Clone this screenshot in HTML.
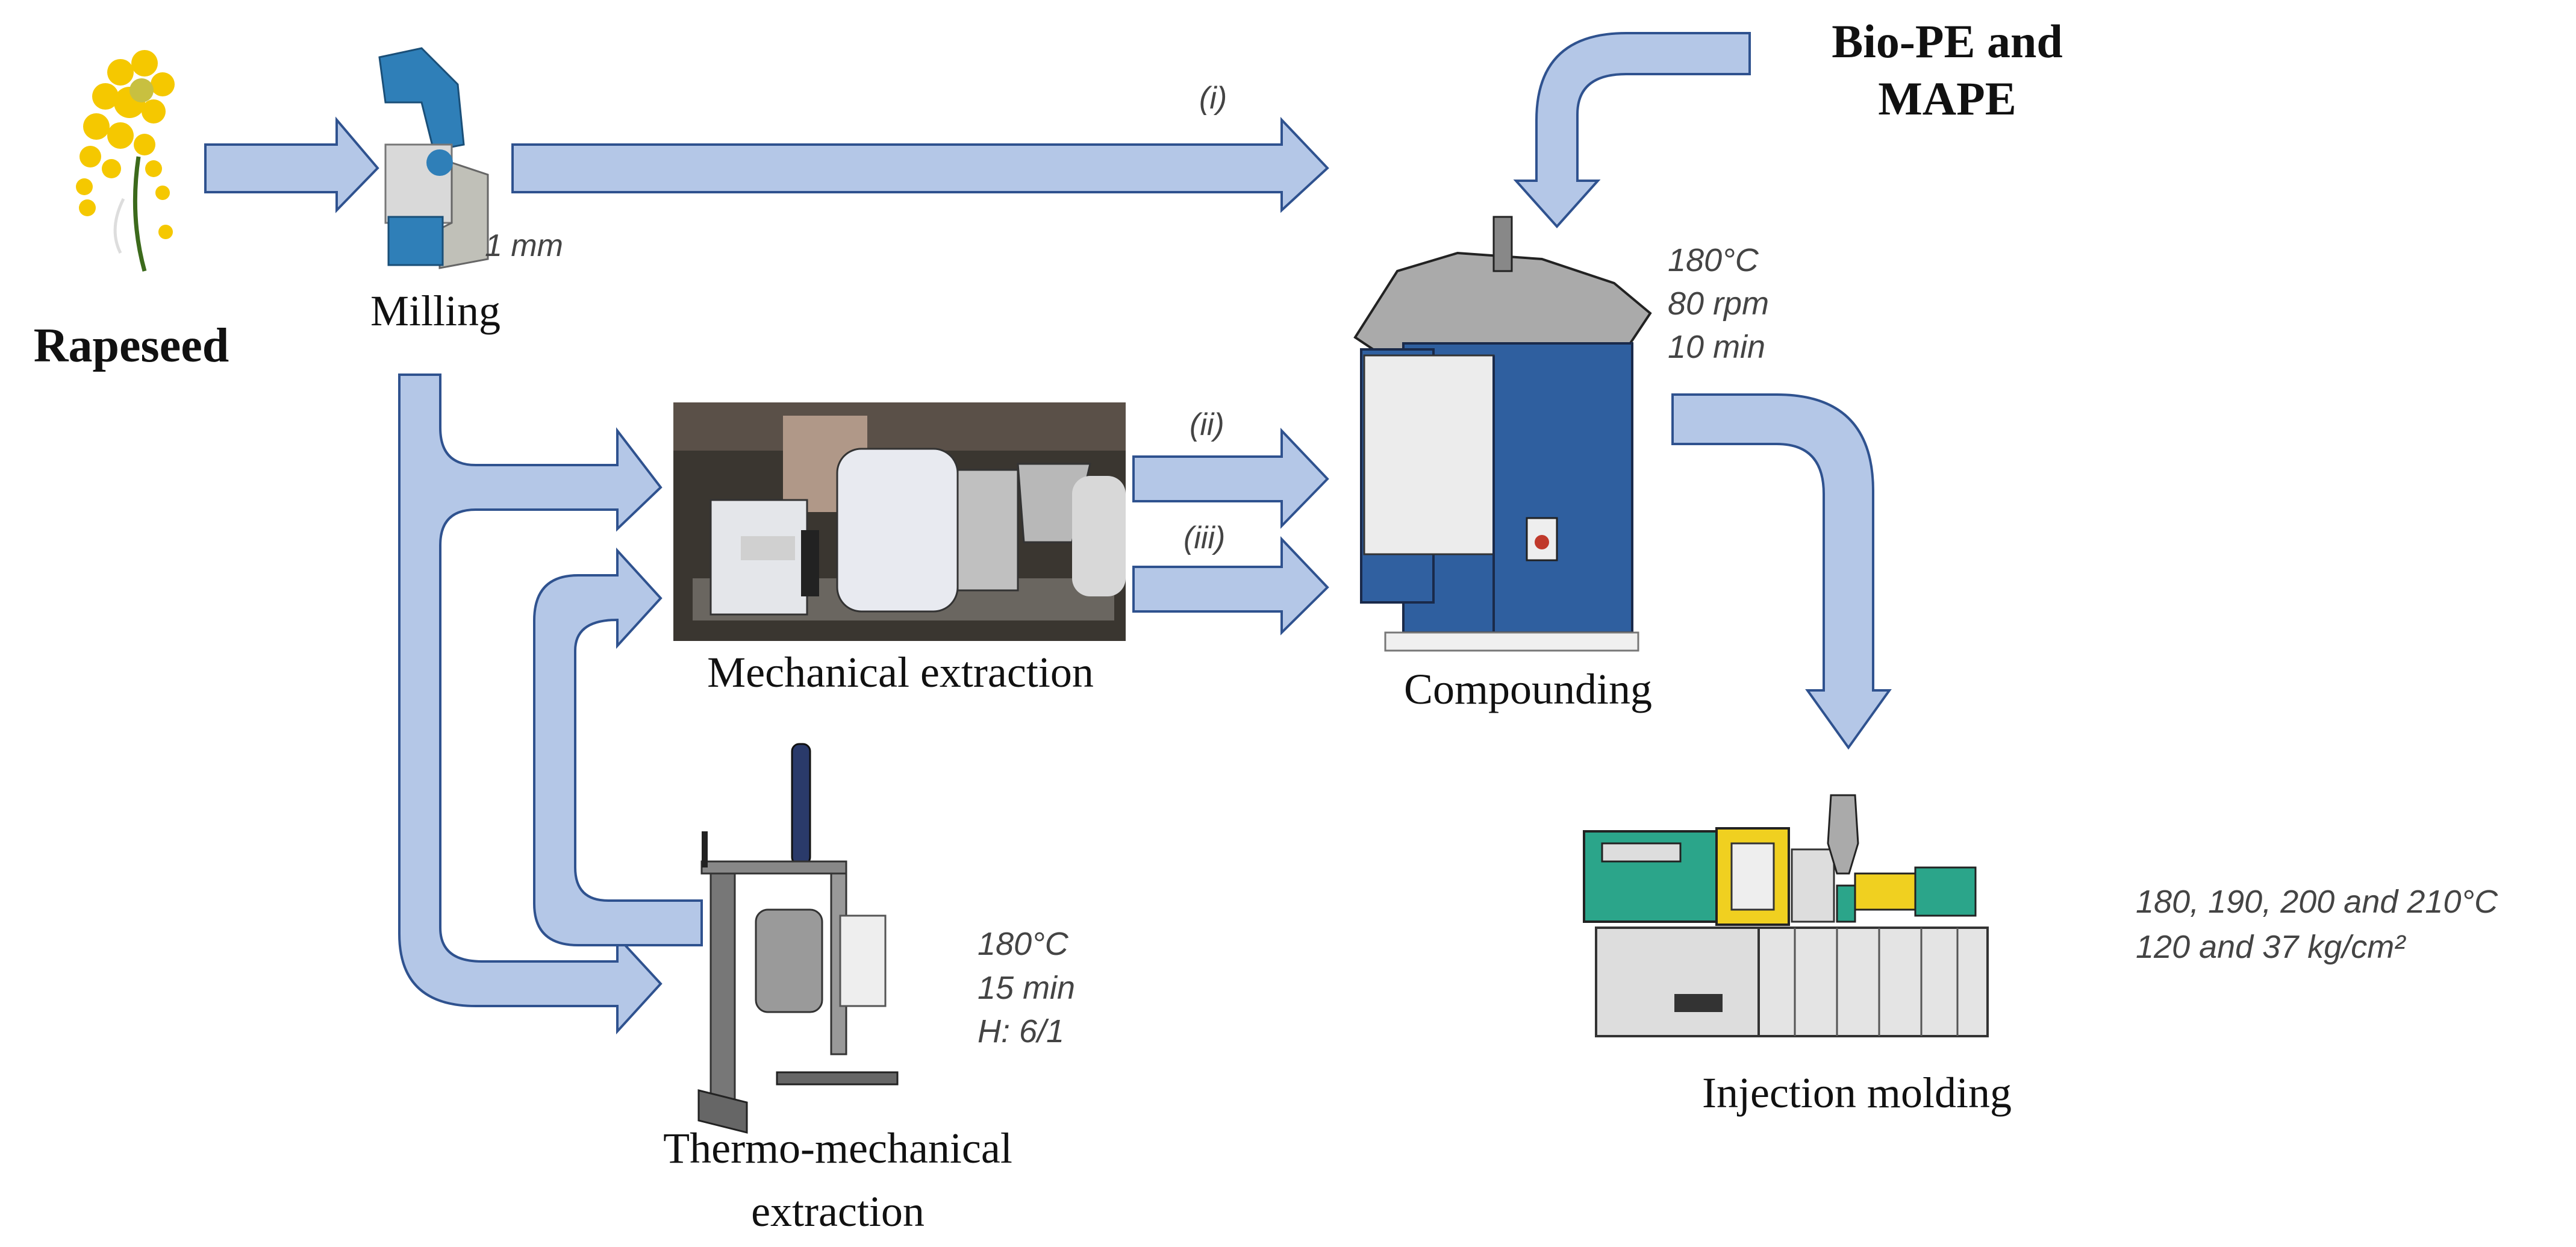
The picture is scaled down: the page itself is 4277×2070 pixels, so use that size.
<!DOCTYPE html>
<html><head><meta charset="utf-8"><style>
html,body{margin:0;padding:0;background:#fff;}
svg{display:block}
.s{font-family:"Liberation Serif",serif;fill:#111;}
.h{font-family:"Liberation Sans",sans-serif;font-style:italic;fill:#444;font-weight:300;}
.a{fill:#b4c7e7;stroke:#2f528f;stroke-width:4;stroke-linejoin:miter;}
</style></head><body>
<svg width="4277" height="2070" viewBox="0 0 4277 2070" xmlns="http://www.w3.org/2000/svg">
<rect width="4277" height="2070" fill="#fff"/>

<!-- Rapeseed flower -->
<g>
<path d="M230 260 Q215 360 240 450" stroke="#3c6a1c" stroke-width="7" fill="none"/>
<path d="M205 330 Q180 380 200 420" stroke="#ddd" stroke-width="5" fill="none"/>
<g fill="#f5c800">
<circle cx="200" cy="120" r="22"/><circle cx="240" cy="105" r="22"/><circle cx="270" cy="140" r="20"/>
<circle cx="175" cy="160" r="22"/><circle cx="215" cy="170" r="26"/><circle cx="255" cy="185" r="20"/>
<circle cx="160" cy="210" r="22"/><circle cx="200" cy="225" r="22"/><circle cx="240" cy="240" r="18"/>
<circle cx="150" cy="260" r="18"/><circle cx="185" cy="280" r="16"/><circle cx="140" cy="310" r="14"/>
<circle cx="255" cy="280" r="14"/><circle cx="145" cy="345" r="14"/><circle cx="270" cy="320" r="12"/><circle cx="275" cy="385" r="12"/>
</g>
<circle cx="235" cy="150" r="20" fill="#c8c040"/>
</g>
<text class="s" x="218" y="600" font-size="80" font-weight="bold" text-anchor="middle">Rapeseed</text>

<!-- Milling machine -->
<g>
<path d="M630 95 L700 80 L760 140 L770 240 L720 250 L700 170 L640 170 Z" fill="#2f7fb8" stroke="#1a4f78" stroke-width="3"/>
<rect x="640" y="240" width="110" height="130" fill="#d9d9d9" stroke="#777" stroke-width="3"/>
<path d="M750 270 L810 290 L810 430 L730 445 L730 380 L750 370 Z" fill="#c0c0b8" stroke="#666" stroke-width="3"/>
<rect x="645" y="360" width="90" height="80" fill="#2f7fb8" stroke="#1a4f78" stroke-width="3"/>
<circle cx="730" cy="270" r="22" fill="#2f7fb8"/>
</g>
<text class="h" x="805" y="425" font-size="52">1 mm</text>
<text class="s" x="723" y="540" font-size="72" text-anchor="middle">Milling</text>

<!-- Arrows -->
<path class="a" d="M341 240 L559 240 L559 199 L627 279 L559 349 L559 319 L341 319 Z"/>
<path class="a" d="M851 240 L2128 240 L2128 199 L2204 279 L2128 349 L2128 319 L851 319 Z"/>
<text class="h" x="1991" y="180" font-size="52">(i)</text>

<path class="a" d="M1882 758 L2128 758 L2128 715 L2204 795 L2128 873 L2128 832 L1882 832 Z"/>
<text class="h" x="1975" y="722" font-size="52">(ii)</text>
<path class="a" d="M1882 941 L2128 941 L2128 895 L2204 975 L2128 1050 L2128 1015 L1882 1015 Z"/>
<text class="h" x="1965" y="910" font-size="52">(iii)</text>

<!-- Milling tree -->
<path class="a" d="M663 622 L731 622 L731 710 Q731 772 790 772 L1025 772 L1025 715 L1097 809 L1025 878 L1025 846 L790 846 Q731 846 731 905 L731 1540 Q731 1596 800 1596 L1025 1596 L1025 1555 L1097 1633 L1025 1712 L1025 1670 L790 1670 Q663 1670 663 1550 Z"/>

<!-- Return arrow -->
<path class="a" d="M1165 1495 L1010 1495 Q955 1495 955 1440 L955 1080 Q955 1029 1025 1029 L1025 1072 L1097 993 L1025 914 L1025 955 L960 955 Q887 955 887 1030 L887 1500 Q887 1569 960 1569 L1165 1569 Z"/>

<!-- Bio-PE arrow -->
<path class="a" d="M2905 55 L2700 55 Q2551 55 2551 200 L2551 300 L2517 300 L2585 376 L2653 300 L2619 300 L2619 190 Q2619 123 2700 123 L2905 123 Z"/>
<text class="s" x="3233" y="95" font-size="78" font-weight="bold" text-anchor="middle">Bio-PE and</text>
<text class="s" x="3233" y="190" font-size="78" font-weight="bold" text-anchor="middle">MAPE</text>

<!-- Comp -> injection -->
<path class="a" d="M2777 655 L2950 655 Q3110 655 3110 815 L3110 1146 L3137 1146 L3069 1241 L3001 1146 L3028 1146 L3028 820 Q3028 737 2950 737 L2777 737 Z"/>

<!-- Mechanical extraction photo -->
<g>
<rect x="1118" y="668" width="751" height="396" fill="#3a3630"/>
<rect x="1118" y="668" width="751" height="80" fill="#5a5048"/>
<rect x="1300" y="690" width="140" height="160" fill="#b09888"/>
<rect x="1150" y="960" width="700" height="70" fill="#6a6660"/>
<rect x="1180" y="830" width="160" height="190" fill="#e4e6ea" stroke="#333" stroke-width="3"/>
<rect x="1230" y="890" width="90" height="40" fill="#d0d0d0"/>
<rect x="1390" y="745" width="200" height="270" rx="40" fill="#e8eaf0" stroke="#333" stroke-width="3"/>
<rect x="1590" y="780" width="100" height="200" fill="#c0c0c0" stroke="#333" stroke-width="3"/>
<path d="M1690 770 L1810 770 L1780 900 L1700 900 Z" fill="#b8b8b8" stroke="#333" stroke-width="3"/>
<rect x="1780" y="790" width="89" height="200" rx="30" fill="#d8d8d8"/>
<rect x="1330" y="880" width="30" height="110" fill="#222"/>
</g>
<text class="s" x="1495" y="1140" font-size="72" text-anchor="middle">Mechanical extraction</text>

<!-- Thermo-mechanical reactor -->
<g>
<rect x="1315" y="1235" width="30" height="200" rx="12" fill="#2a3a6a" stroke="#111" stroke-width="3"/>
<rect x="1165" y="1430" width="240" height="20" fill="#888" stroke="#333" stroke-width="3"/>
<rect x="1180" y="1450" width="40" height="380" fill="#777" stroke="#333" stroke-width="3"/>
<rect x="1380" y="1450" width="25" height="300" fill="#999" stroke="#333" stroke-width="3"/>
<rect x="1255" y="1510" width="110" height="170" rx="20" fill="#9a9a9a" stroke="#333" stroke-width="3"/>
<rect x="1395" y="1520" width="75" height="150" fill="#eee" stroke="#555" stroke-width="3"/>
<path d="M1160 1810 L1240 1830 L1240 1880 L1160 1860 Z M1290 1780 L1490 1780 L1490 1800 L1290 1800 Z" fill="#666" stroke="#222" stroke-width="3"/>
<path d="M1170 1380 L1170 1440" stroke="#222" stroke-width="10"/>
</g>
<text class="h" x="1623" y="1585" font-size="54">180°C</text>
<text class="h" x="1623" y="1658" font-size="54">15 min</text>
<text class="h" x="1623" y="1730" font-size="54">H: 6/1</text>
<text class="s" x="1391" y="1930" font-size="72" text-anchor="middle">Thermo-mechanical</text>
<text class="s" x="1391" y="2035" font-size="72" text-anchor="middle">extraction</text>

<!-- Compounding machine -->
<g>
<path d="M2250 560 L2320 450 L2420 420 L2560 430 L2680 470 L2740 520 L2700 580 L2280 580 Z" fill="#aaa" stroke="#222" stroke-width="4"/>
<rect x="2480" y="360" width="30" height="90" fill="#888" stroke="#222" stroke-width="3"/>
<rect x="2330" y="570" width="380" height="480" fill="#2f5f9f" stroke="#1a2a4a" stroke-width="4"/>
<rect x="2260" y="580" width="120" height="420" fill="#3060a0" stroke="#1a2a4a" stroke-width="4"/>
<rect x="2265" y="590" width="215" height="330" fill="#ececec" stroke="#333" stroke-width="3"/>
<path d="M2480 590 L2480 1050" stroke="#1a2a4a" stroke-width="4"/>
<rect x="2535" y="860" width="50" height="70" fill="#eee" stroke="#222" stroke-width="3"/>
<circle cx="2560" cy="900" r="12" fill="#c0392b"/>
<rect x="2300" y="1050" width="420" height="30" fill="#f0f0f0" stroke="#777" stroke-width="3"/>
</g>
<text class="h" x="2769" y="450" font-size="54">180°C</text>
<text class="h" x="2769" y="522" font-size="54">80 rpm</text>
<text class="h" x="2769" y="594" font-size="54">10 min</text>
<text class="s" x="2537" y="1168" font-size="72" text-anchor="middle">Compounding</text>

<!-- Injection molding machine -->
<g>
<rect x="2630" y="1380" width="220" height="150" fill="#2ba58a" stroke="#222" stroke-width="4"/>
<rect x="2660" y="1400" width="130" height="30" fill="#ddd" stroke="#222" stroke-width="3"/>
<rect x="2850" y="1375" width="120" height="160" fill="#f0d020" stroke="#222" stroke-width="4"/>
<rect x="2875" y="1400" width="70" height="110" fill="#eee" stroke="#333" stroke-width="3"/>
<rect x="2975" y="1410" width="70" height="120" fill="#ddd" stroke="#333" stroke-width="3"/>
<path d="M3040 1320 L3080 1320 L3085 1400 L3070 1450 L3050 1450 L3035 1400 Z" fill="#aaa" stroke="#222" stroke-width="3"/>
<rect x="3080" y="1450" width="100" height="60" fill="#f0d020" stroke="#222" stroke-width="3"/>
<rect x="3180" y="1440" width="100" height="80" fill="#2ba58a" stroke="#222" stroke-width="3"/>
<rect x="3050" y="1470" width="30" height="60" fill="#2ba58a" stroke="#222" stroke-width="3"/>
<rect x="2650" y="1540" width="270" height="180" fill="#ddd" stroke="#333" stroke-width="4"/>
<rect x="2920" y="1540" width="380" height="180" fill="#e4e4e4" stroke="#333" stroke-width="4"/>
<path d="M2980 1540 V1720 M3050 1540 V1720 M3120 1540 V1720 M3190 1540 V1720 M3250 1540 V1720" stroke="#555" stroke-width="3"/>
<rect x="2780" y="1650" width="80" height="30" fill="#333"/>
</g>
<text class="h" x="3546" y="1515" font-size="54">180, 190, 200 and 210°C</text>
<text class="h" x="3546" y="1590" font-size="54">120 and 37 kg/cm²</text>
<text class="s" x="3083" y="1838" font-size="72" text-anchor="middle">Injection molding</text>
</svg>
</body></html>
